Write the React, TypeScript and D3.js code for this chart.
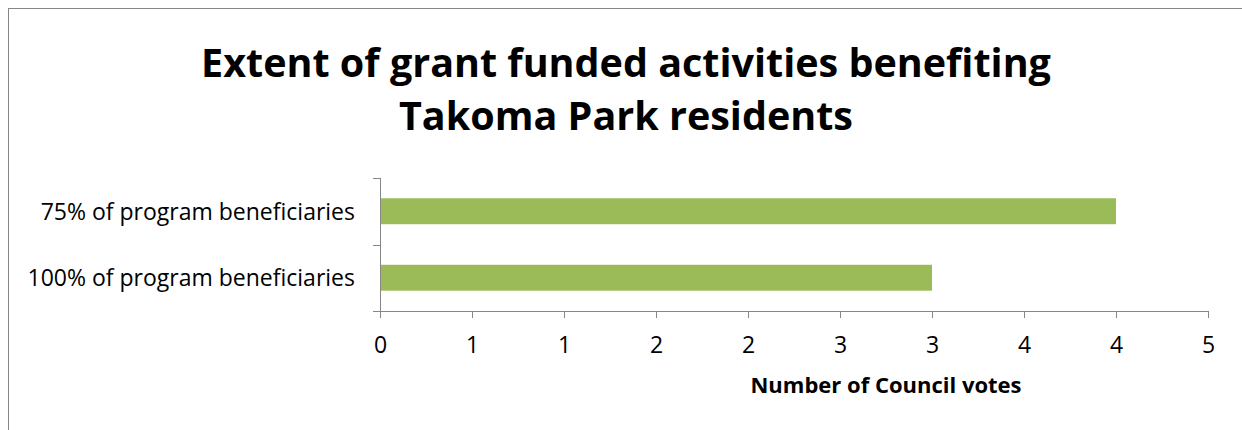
import * as d3 from "d3";

const categories = ["75% of program beneficiaries", "100% of program beneficiaries"];
const votes = [4, 3];
const tickValues = [0, 0.5, 1, 1.5, 2, 2.5, 3, 3.5, 4, 4.5];
const titleLines = ["Extent of grant funded activities benefiting", "Takoma Park residents"];
const xTitle = "Number of Council votes";

const FONT = "'Open Sans', Lato, sans-serif";
const AXIS = "#868686";

export default function App() {
  const width = 1242;
  const height = 430;
  const plot = { left: 380, right: 1208, top: 178, bottom: 311 };

  const x = d3.scaleLinear().domain([0, 4.5]).range([plot.left, plot.right]);
  const y = d3
    .scaleBand<string>()
    .domain(categories)
    .range([plot.top, plot.bottom])
    .paddingInner(0.61)
    .paddingOuter(0.305);

  // Excel-style "0" number format: round half away from zero
  const fmt = (v: number) => String(Math.round(v));

  return (
    <svg
      width={width}
      height={height}
      style={{ position: "absolute", left: 0, top: 0, background: "#fff" }}
    >
      {/* chart frame, runs off the page on right and bottom */}
      <rect x={8.5} y={8.5} width={1300} height={500} fill="#fff" stroke={AXIS} strokeWidth={1} />

      {titleLines.map((t, i) => (
        <text
          key={t}
          x={626}
          y={77 + i * 53}
          textAnchor="middle"
          fontFamily={FONT}
          fontWeight="bold"
          fontSize={39.5}
          fill="#000"
        >
          {t}
        </text>
      ))}

      {categories.map((c, i) => (
        <rect
          key={c}
          x={x(0)}
          y={y(c)!}
          width={x(votes[i]) - x(0)}
          height={y.bandwidth()}
          fill="#9BBB59"
        />
      ))}

      {/* y axis */}
      <line x1={plot.left + 0.5} x2={plot.left + 0.5} y1={plot.top} y2={plot.bottom} stroke={AXIS} />
      {[plot.top, (plot.top + plot.bottom) / 2, plot.bottom].map((v) => (
        <line key={v} x1={plot.left - 7} x2={plot.left + 0.5} y1={Math.round(v) + 0.5} y2={Math.round(v) + 0.5} stroke={AXIS} />
      ))}
      {categories.map((c) => (
        <text
          key={c}
          x={355}
          y={y(c)! + y.bandwidth() / 2}
          dy="0.36em"
          textAnchor="end"
          fontFamily={FONT}
          fontSize={23}
          fill="#000"
        >
          {c}
        </text>
      ))}

      {/* x axis */}
      <line x1={plot.left} x2={plot.right + 0.5} y1={plot.bottom + 0.5} y2={plot.bottom + 0.5} stroke={AXIS} />
      {tickValues.map((t) => (
        <g key={t} transform={`translate(${Math.round(x(t)) + 0.5},0)`}>
          <line y1={plot.bottom} y2={plot.bottom + 7} stroke={AXIS} />
          <text
            y={353}
            textAnchor="middle"
            fontFamily={FONT}
            fontSize={23}
            fill="#000"
          >
            {fmt(t)}
          </text>
        </g>
      ))}
      <text
        x={886}
        y={393}
        textAnchor="middle"
        fontFamily={FONT}
        fontWeight="bold"
        fontSize={22}
        fill="#000"
      >
        {xTitle}
      </text>
    </svg>
  );
}
